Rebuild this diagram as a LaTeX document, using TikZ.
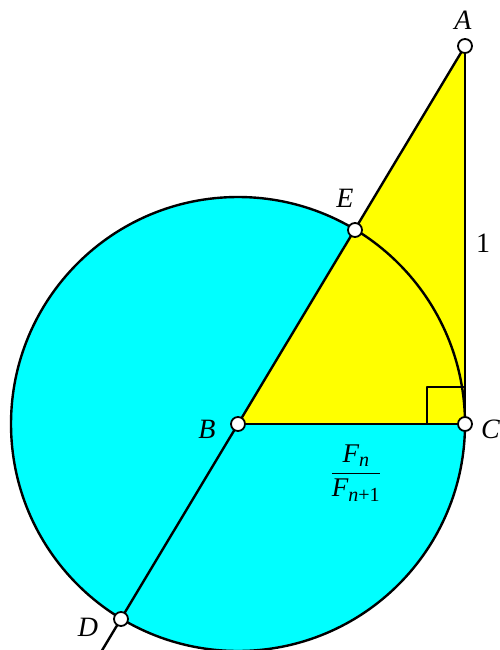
\documentclass[tikz,border=0pt]{standalone}
\usepackage{fontspec}
\setmainfont{Liberation Serif}
\usetikzlibrary{calc}
\definecolor{diskcol}{RGB}{0,255,255}
\definecolor{tricol}{RGB}{255,255,0}
\begin{document}
\begin{tikzpicture}[x=1pt,y=-1pt,
  edge/.style={line width=2.4pt,line join=round},
  pt/.style={circle,draw=black,fill=white,line width=1.8pt,minimum size=14pt,inner sep=0pt},
  lbl/.style={font=\fontsize{28}{30}\selectfont\itshape,inner sep=0pt}]
\useasboundingbox (0,0) rectangle (500,650);
\coordinate (B) at (238,424);
\coordinate (C) at (465,424);
\coordinate (A) at (465,46);
\coordinate (E) at (355,230);
\coordinate (D) at (121,619);
\coordinate (Dx) at ($(A)!1.62!(B)$);
\fill[diskcol] (B) circle (227);
\fill[tricol] (A) -- (B) -- (C) -- cycle;
\begin{scope}
\clip (0,0) rectangle (500,650);
\draw[edge] (B) circle (227);
\draw[edge] (A) -- (Dx);
\end{scope}
\draw[edge] (B) -- (C) -- (A);
\draw[edge] (427,424) -- (427,387) -- (465,387);
\node[pt] (nA) at (A) {};
\node[pt] (nE) at (E) {};
\node[pt] (nB) at (B) {};
\node[pt] (nC) at (C) {};
\node[pt] (nD) at (D) {};
\node[lbl] (lA) at (463,20) {A};
\node[lbl] (lE) at (345,198) {E};
\node[lbl] (lB) at (207,429) {B};
\node[lbl,anchor=west] (lC) at (481,429) {C};
\node[lbl] (lD) at (88,627) {D};
\node[lbl,font=\fontsize{28}{30}\selectfont] (l1) at (483,243) {1};
\node[inner sep=0pt,font=\fontsize{27}{30}\selectfont] (frac) at (356,473)
  {$\displaystyle\frac{\mbox{\itshape F}_{\mbox{\fontsize{20}{22}\selectfont\itshape n}}}{\mbox{\itshape F}_{\mbox{\fontsize{20}{22}\selectfont\itshape n\upshape+1}}}$};
\end{tikzpicture}
\end{document}
